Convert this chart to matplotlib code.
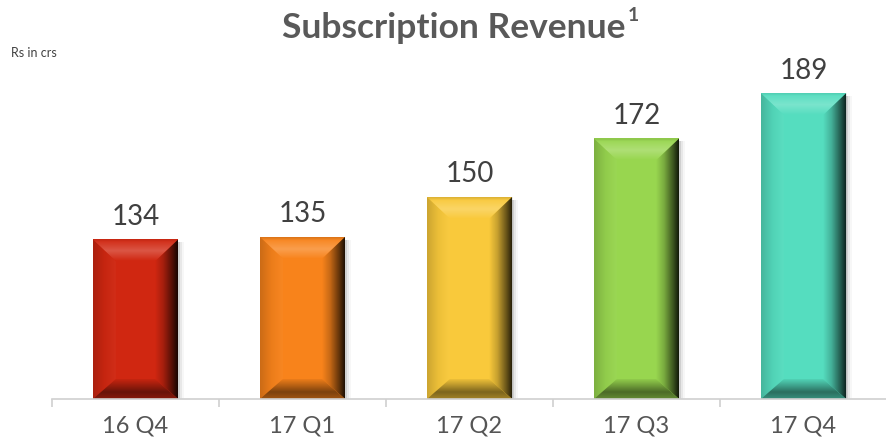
import matplotlib
matplotlib.use("Agg")
import matplotlib.pyplot as plt
import numpy as np
from matplotlib.patches import Polygon
from matplotlib.colors import to_rgb

categories = ["16 Q4", "17 Q1", "17 Q2", "17 Q3", "17 Q4"]
values = [134, 135, 150, 172, 189]
colors = ["#D02711", "#F8831B", "#F9C93B", "#98D64F", "#55DDBF"]

W, H = 886, 442
BOT, TOP = 43, 64
fig = plt.figure(figsize=(W / 100, H / 100), dpi=100)
ax = fig.add_axes([52 / W, BOT / H, 835 / W, 1 - BOT / H - TOP / H])
XL, YL = (-0.5, 4.5), (74, 200)
ax.set_xlim(*XL)
ax.set_ylim(*YL)
for s in ["top", "right", "left"]:
    ax.spines[s].set_visible(False)
ax.spines["bottom"].set_color("#d0d0d0")
ax.spines["bottom"].set_linewidth(1.2)
ax.spines["bottom"].set_zorder(5)
ax.set_yticks([])
ax.set_xticks(np.arange(len(categories)))
ax.set_xticklabels(categories, fontsize=17, color="#555555", family="Lato")
ax.tick_params(axis="x", length=0, pad=12)
ax.set_xticks(np.arange(-0.5, len(categories)), minor=True)
ax.tick_params(axis="x", which="minor", length=6, color="#d0d0d0", width=1.2)

bw = 0.51
x = np.arange(len(categories))
ax.bar(x, [v - 74 for v in values], bottom=74, width=bw, color=colors, zorder=2)

pxx = (XL[1] - XL[0]) / 835
pxy = (YL[1] - YL[0]) / (H - BOT - TOP)
bvx, bvt, bvb = 23, 22, 20


def mix(c, t, amt):
    c = np.array(to_rgb(c)); t = np.array(to_rgb(t))
    return c * (1 - amt) + t * amt


def grad(stops, n=64):
    ts = np.linspace(0, 1, n)
    pos = [p for p, _ in stops]
    cols = np.array([col for _, col in stops])
    return np.stack([np.interp(ts, pos, cols[:, k]) for k in range(3)], axis=-1)


def facet(poly, g, extent, vertical):
    patch = Polygon(poly, closed=True, facecolor="none", lw=0, transform=ax.transData)
    ax.add_patch(patch)
    img = g[:, None, :] if vertical else g[None, :, :]
    im = ax.imshow(img, extent=extent, origin="lower", aspect="auto",
                   interpolation="bilinear", zorder=3)
    im.set_clip_path(patch)


for xi, v, c in zip(x, values, colors):
    x0, x1 = xi - bw / 2, xi + bw / 2
    y0, y1 = 74, v
    ix0, ix1 = x0 + bvx * pxx, x1 - bvx * pxx
    iy0, iy1 = y0 + bvb * pxy, y1 - bvt * pxy
    for k, a in enumerate([0.10, 0.06, 0.03]):
        ax.add_patch(Polygon([(x1, y0), (x1 + (k + 1) * 2 * pxx, y0),
                              (x1 + (k + 1) * 2 * pxx, y1 - 3 * pxy), (x1, y1 - 3 * pxy)],
                             closed=True, facecolor="black", alpha=a, lw=0, zorder=1))
    g = grad([(0, mix(c, "white", 0.0)), (0.45, mix(c, "white", 0.22)),
              (0.85, mix(c, "white", 0.05)), (1, mix(c, "black", 0.12))])
    facet([(x0, y1), (x1, y1), (ix1, iy1), (ix0, iy1)], g, (x0, x1, iy1, y1), True)
    g = grad([(0, mix(c, "black", 0.18)), (0.5, mix(c, "black", 0.05)), (1, mix(c, "white", 0.03))])
    facet([(x0, y1), (ix0, iy1), (ix0, iy0), (x0, y0)], g, (x0, ix0, y0, y1), False)
    g = grad([(0, mix(c, "black", 0.0)), (0.35, mix(c, "black", 0.2)),
              (0.75, mix(c, "black", 0.6)), (1, mix(c, "black", 0.88))])
    facet([(ix1, iy1), (x1, y1), (x1, y0), (ix1, iy0)], g, (ix1, x1, y0, y1), False)
    g = grad([(0, mix(c, "black", 0.35)), (0.35, mix(c, "black", 0.5)),
              (0.7, mix(c, "black", 0.25)), (1, mix(c, "black", 0.05))])
    facet([(x0, y0), (ix0, iy0), (ix1, iy0), (x1, y0)], g, (x0, x1, y0, iy0), True)
    ax.text(xi, v + 3.6, f"{v}", ha="center", va="bottom", fontsize=20, color="#404040",
            family="Lato", clip_on=False)

ax.set_xlim(*XL)
ax.set_ylim(*YL)

fig.text(0.512, 0.915, "Subscription Revenue", ha="center", va="baseline",
         fontsize=25.5, fontweight="bold", color="#595959", family="Lato")
fig.text(0.708, 0.952, "1", ha="left", va="baseline",
         fontsize=14, fontweight="bold", color="#595959", family="Lato")
fig.text(0.012, 0.88, "Rs in crs", ha="left", va="center", fontsize=9, color="#404040",
         family="Lato")

fig.savefig("out.png", dpi=100)
